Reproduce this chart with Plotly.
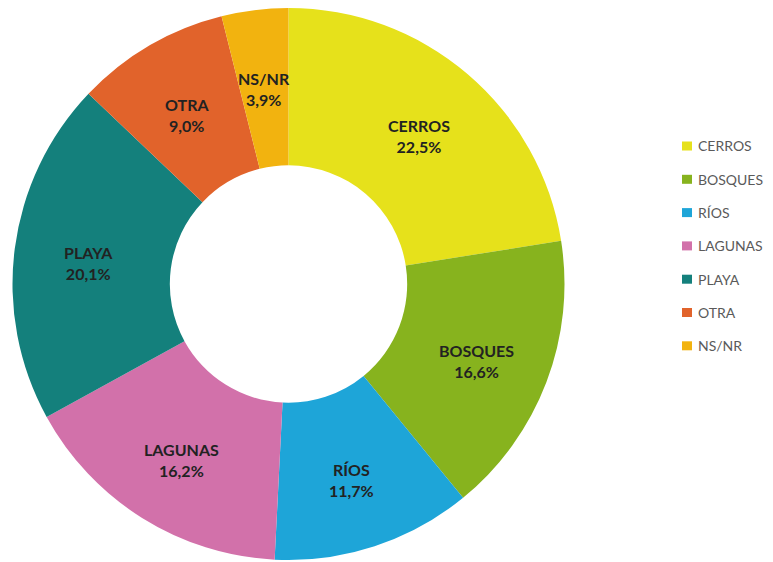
import math
import plotly.graph_objects as go

# Survey shares by landscape type (%)
categories = ["CERROS", "BOSQUES", "RÍOS", "LAGUNAS", "PLAYA", "OTRA", "NS/NR"]
shares = [22.5, 16.6, 11.7, 16.2, 20.1, 9.0, 3.9]
value_labels = ["22,5%", "16,6%", "11,7%", "16,2%", "20,1%", "9,0%", "3,9%"]
colors = ["#e6e11b", "#87b31e", "#1ea5d8", "#d271aa", "#14807c", "#e1632b", "#f2b30f"]

W, H = 773, 562
HOLE = 0.43
# pie domain in pixels (left, right, top, bottom)
PX_L, PX_R, PX_T, PX_B = 11, 566, 8, 560

fig = go.Figure()
fig.add_trace(go.Pie(
    labels=categories,
    values=shares,
    sort=False,
    direction="clockwise",
    rotation=0,
    hole=HOLE,
    marker=dict(colors=colors, line=dict(width=0)),
    textinfo="none",
    domain=dict(x=[PX_L / W, PX_R / W], y=[1 - PX_B / H, 1 - PX_T / H]),
    showlegend=False,
))

# Slice labels placed on each slice's bisector, around the middle of the ring
cx = (PX_L + PX_R) / 2
cy = (PX_T + PX_B) / 2
radius = min(PX_R - PX_L, PX_B - PX_T) / 2
r_text = radius * (1 + HOLE) / 2 + 4
total = sum(shares)
annotations = []
cum = 0.0
for name, share, lab in zip(categories, shares, value_labels):
    mid = (cum + share / 2) / total * 2 * math.pi
    cum += share
    x = cx + r_text * math.sin(mid)
    y = cy - r_text * math.cos(mid) + 5
    annotations.append(dict(
        x=x / W, y=1 - y / H, xref="paper", yref="paper",
        text=f"{name}<br>{lab}", showarrow=False,
        xanchor="center", yanchor="middle", align="center",
        font=dict(family="Lato", size=16, color="#222222", weight="bold"),
    ))

# Legend: small square swatch followed by the category name
shapes = []
for i, (name, col) in enumerate(zip(categories, colors)):
    yc = 146 + 33.3 * i
    shapes.append(dict(
        type="rect", xref="paper", yref="paper",
        x0=682 / W, x1=692 / W,
        y0=1 - (yc + 4.5) / H, y1=1 - (yc - 4.5) / H,
        fillcolor=col, line=dict(width=0),
    ))
    annotations.append(dict(
        x=696 / W, y=1 - yc / H, xref="paper", yref="paper",
        text=name, showarrow=False, xanchor="left", yanchor="middle",
        font=dict(family="Lato", size=14, color="#5a5a5a"),
    ))

fig.update_layout(
    width=W, height=H,
    margin=dict(l=0, r=0, t=0, b=0),
    paper_bgcolor="white",
    plot_bgcolor="white",
    shapes=shapes,
    annotations=annotations,
)

fig.write_html("out.html")
